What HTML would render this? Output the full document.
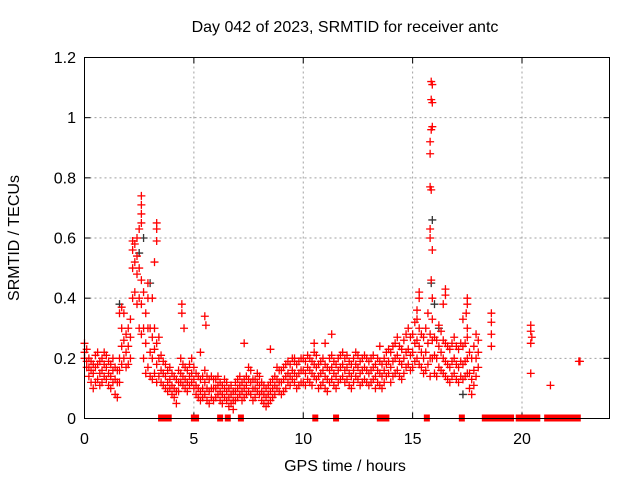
<!DOCTYPE html>
<html><head><meta charset="utf-8"><style>
html,body{margin:0;padding:0;background:#fff;}
svg{display:block;font-family:"Liberation Sans",sans-serif;}
</style></head><body>
<svg id="chart" width="640" height="480" viewBox="0 0 640 480">
<rect width="640" height="480" fill="#fff"/>
<text x="345" y="32" font-size="16" text-anchor="middle">Day 042 of 2023, SRMTID for receiver antc</text>
<g id="grid"></g>
<g id="ticks"></g>
<g id="pts"></g>
<rect x="84.5" y="57.5" width="525" height="361" fill="none" stroke="#000" stroke-width="1"/>
<text x="345" y="471" font-size="16" text-anchor="middle">GPS time / hours</text>
<text transform="translate(19,238) rotate(-90)" font-size="16" text-anchor="middle">SRMTID / TECUs</text>
</svg>
<script>
const xTicks=[0,5,10,15,20];
const yTicks=[0,0.2,0.4,0.6,0.8,1,1.2];
const yTickLabels=["0","0.2","0.4","0.6","0.8","1","1.2"];
const bandStart=0, bandStep=0.1;
const lo=[.20,.17,.14,.12,.10,.12,.13,.11,.12,.14,.13,.11,.10,.12,.08,.07,.12,.18,.20,.17,.18,.20,.40,.42,.38,.30,.28,.20,.15,.17,.14,.13,.15,.12,.14,.12,.11,.10,.09,.10,.08,.07,.05,.09,.12,.11,.10,.09,.11,.12,.10,.08,.07,.06,.07,.08,.06,.05,.07,.06,.07,.08,.06,.05,.07,.06,.04,.05,.03,.06,.07,.08,.06,.07,.08,.09,.08,.06,.07,.09,.08,.06,.05,.04,.05,.06,.07,.08,.10,.09,.08,.09,.10,.12,.11,.13,.12,.10,.11,.12,.12,.11,.13,.12,.11,.14,.13,.10,.11,.12,.10,.09,.12,.13,.11,.10,.12,.13,.14,.12,.13,.11,.10,.12,.14,.13,.11,.12,.13,.12,.11,.12,.13,.10,.12,.11,.10,.12,.14,.15,.12,.14,.15,.16,.14,.13,.15,.17,.18,.16,.17,.19,.20,.18,.17,.15,.16,.18,.14,.20,.15,.14,.17,.16,.15,.14,.13,.12,.14,.15,.13,.12,.14,.13,.14,.15,.10,.08,.11,.14,.17];
const mid=[.22,.19,.17,.16,.15,.17,.18,.15,.16,.18,.17,.15,.14,.16,.13,.12,.16,.24,.26,.22,.24,.27,.50,.52,.48,.40,.38,.30,.25,.30,.22,.20,.23,.18,.20,.16,.15,.14,.12,.13,.11,.10,.09,.12,.15,.14,.13,.12,.14,.15,.13,.11,.10,.09,.10,.12,.10,.09,.10,.10,.10,.11,.09,.08,.10,.09,.07,.08,.06,.09,.10,.11,.09,.10,.11,.13,.12,.10,.10,.12,.11,.09,.08,.07,.08,.09,.10,.11,.13,.12,.12,.13,.14,.15,.14,.16,.15,.14,.15,.16,.16,.15,.17,.16,.15,.18,.17,.14,.15,.16,.14,.13,.16,.17,.15,.14,.16,.17,.18,.16,.17,.15,.14,.16,.18,.17,.15,.16,.17,.16,.15,.16,.17,.14,.16,.15,.14,.16,.18,.19,.17,.19,.20,.21,.19,.18,.20,.22,.23,.21,.22,.25,.26,.24,.22,.20,.22,.25,.20,.26,.21,.20,.24,.22,.20,.19,.18,.17,.19,.20,.18,.17,.19,.18,.19,.20,.15,.13,.16,.20,.22];
const hi=[.25,.23,.20,.19,.18,.21,.22,.19,.20,.22,.21,.19,.18,.20,.17,.16,.20,.30,.35,.28,.30,.33,.56,.58,.54,.50,.46,.42,.35,.40,.30,.27,.30,.25,.27,.21,.19,.18,.16,.17,.15,.14,.13,.16,.20,.18,.17,.16,.18,.20,.17,.15,.14,.13,.14,.16,.14,.13,.14,.13,.13,.14,.12,.11,.13,.12,.10,.11,.09,.12,.13,.14,.12,.13,.14,.17,.16,.13,.13,.15,.14,.12,.11,.10,.11,.12,.13,.14,.17,.16,.16,.17,.18,.19,.18,.20,.19,.18,.19,.20,.20,.19,.21,.20,.19,.22,.21,.18,.19,.20,.18,.17,.20,.21,.19,.18,.20,.21,.22,.20,.21,.19,.18,.20,.22,.21,.19,.20,.21,.20,.19,.20,.21,.18,.20,.19,.18,.20,.22,.23,.22,.24,.25,.27,.24,.23,.26,.28,.30,.27,.28,.32,.33,.30,.28,.27,.30,.35,.28,.33,.27,.26,.31,.29,.26,.25,.24,.23,.25,.27,.24,.23,.25,.24,.25,.27,.22,.20,.24,.28,.26];
const spikeT=[2.6,2.6,2.6,2.6,2.5,2.4,3.3,3.3,3.3,3.2,2.2,2.9,3.1,1.7,1.6,4.45,4.45,4.55,5.5,5.55,5.3,7.3,8.5,9.6,10.5,11.0,11.3,13.5,15.3,15.3,15.2,15.85,15.9,15.85,15.9,15.9,15.85,15.8,15.8,15.8,15.85,15.8,15.8,15.9,15.85,15.9,16.5,16.5,16.4,17.5,17.5,17.45,17.3,17.5,18.6,18.6,18.6,18.6,20.4,20.4,20.45,20.4,20.4,21.3,22.6,22.65];
const spikeV=[.74,.71,.68,.65,.63,.60,.65,.63,.59,.52,.59,.45,.40,.37,.35,.38,.35,.30,.34,.31,.22,.25,.23,.20,.25,.25,.28,.24,.42,.40,.36,1.12,1.11,1.06,1.05,.97,.96,.92,.88,.77,.76,.63,.60,.56,.46,.40,.43,.41,.38,.40,.38,.35,.33,.30,.35,.32,.28,.24,.31,.29,.27,.25,.15,.11,.19,.19];
const blackT=[2.7,2.5,15.9,15.85,16.0,1.6,17.3,3.0,16.2];
const blackV=[.60,.55,.66,.45,.38,.38,.08,.45,.30];
const zeroT=[3.5,3.6,3.85,5.0,5.1,6.2,6.55,7.15,10.55,11.5,13.5,13.6,13.7,13.8,15.65,17.25,18.3,18.4,18.5,18.6,18.7,18.8,18.9,19.0,19.1,19.2,19.3,19.4,19.5,19.85,19.95,20.05,20.15,20.25,20.35,20.55,20.7,21.15,21.25,21.35,21.55,21.65,21.8,22.05,22.15,22.25,22.35,22.45,22.55];

const X0=84.5,X1=609.5,Y0=418.5,Y1=57.5;
const xs=t=>X0+t/24*(X1-X0);
const ys=v=>Y0-v/1.2*(Y0-Y1);
const NS="http://www.w3.org/2000/svg";
const grid=document.getElementById('grid'),ticks=document.getElementById('ticks'),pts=document.getElementById('pts');
function mk(tag,attrs,parent){const e=document.createElementNS(NS,tag);for(const k in attrs)e.setAttribute(k,attrs[k]);parent.appendChild(e);return e;}
xTicks.forEach(t=>{const x=xs(t);
 if(t>0){const g=mk('line',{x1:x,x2:x,y1:Y0,y2:Y1,stroke:'#a0a0a0','stroke-dasharray':'2,3'},grid);
 
 }
 mk('line',{x1:x,x2:x,y1:Y0,y2:Y0-6,stroke:'#000'},ticks);
 mk('line',{x1:x,x2:x,y1:Y1,y2:Y1+6,stroke:'#000'},ticks);
 const l=mk('text',{x:x,y:444,'font-size':16,'text-anchor':'middle'},ticks);l.textContent=t;
 
 
});
yTicks.forEach((v,i)=>{const y=ys(v);
 if(v>0&&v<1.2){const g=mk('line',{x1:X0,x2:X1,y1:y,y2:y,stroke:'#a0a0a0','stroke-dasharray':'2,3'},grid);
 
 }
 mk('line',{x1:X0,x2:X0+6,y1:y,y2:y,stroke:'#000'},ticks);
 mk('line',{x1:X1,x2:X1-6,y1:y,y2:y,stroke:'#000'},ticks);
 const l=mk('text',{x:76,y:y+5.5,'font-size':16,'text-anchor':'end'},ticks);l.textContent=yTickLabels[i];
 
 
});
function cross(t,v,col){const x=xs(t),y=ys(v),s=4;
 const p=mk('path',{d:`M${x-s},${y}H${x+s}M${x},${y-s}V${y+s}`,stroke:col,'stroke-width':1.3,fill:'none'},pts);
 
 }
blackT.forEach((t,i)=>cross(t,blackV[i],'#333'));
[lo,mid,hi].forEach(arr=>arr.forEach((v,i)=>cross(bandStart+i*bandStep,v,'#f00')));
spikeT.forEach((t,i)=>cross(t,spikeV[i],'#f00'));
zeroT.forEach(t=>{const x=xs(t),y=ys(0);
 const r=mk('rect',{x:x-3,y:y-4,width:6,height:7,fill:'#f00'},pts);
 
 });
</script>
</body></html>
